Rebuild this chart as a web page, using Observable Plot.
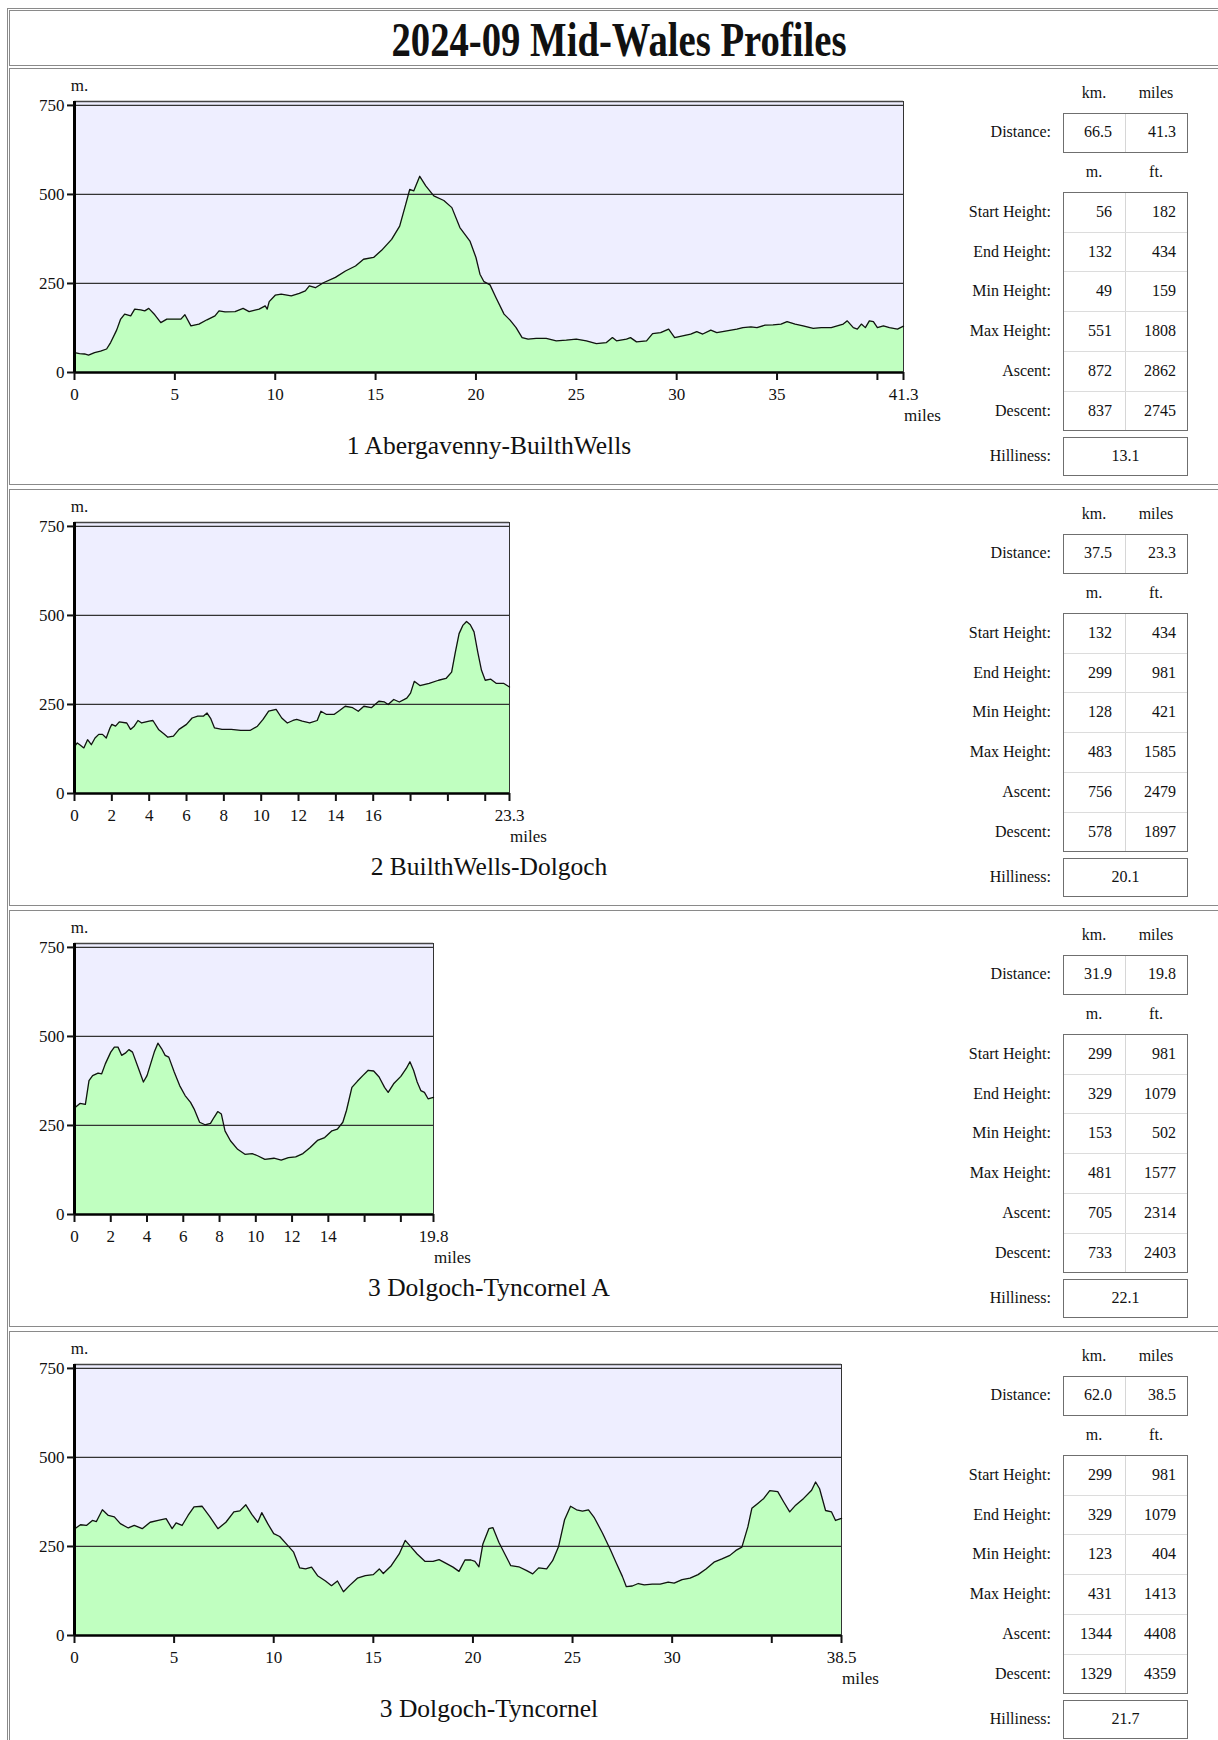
<!DOCTYPE html>
<html><head><meta charset="utf-8">
<script src="https://cdn.jsdelivr.net/npm/d3@7"></script>
<script src="https://cdn.jsdelivr.net/npm/@observablehq/plot@0.6"></script>
<style>
html,body{margin:0;padding:0;background:#fff}
body{width:1218px;height:1740px;overflow:hidden;position:relative;font-family:"Liberation Serif","Times New Roman",serif;color:#111}
.abs{position:absolute}
.box{position:absolute;border:1px solid #8a8a8a;box-sizing:border-box}
.lbl{position:absolute;font-size:16px;text-align:right;width:200px;line-height:20px}
.hdr{position:absolute;font-size:16px;text-align:center;width:62px;line-height:20px}
.sbox{position:absolute;border:1px solid #6f6f6f;box-sizing:border-box;background:#fff}
.cell{position:absolute;font-size:16px;text-align:right;box-sizing:border-box;line-height:20px}
.route{position:absolute;font-size:25.5px;text-align:center;width:500px;line-height:30px}
svg{position:absolute;overflow:visible}
</style></head><body>
<script>
// ---------- data ----------
const pageTitle = "2024-09 Mid-Wales Profiles";
const routeNames = ["1 Abergavenny-BuilthWells", "2 BuilthWells-Dolgoch", "3 Dolgoch-Tyncornel A", "3 Dolgoch-Tyncornel"];
const distKm = ["66.5", "37.5", "31.9", "62.0"];
const distMiles = [41.3, 23.3, 19.8, 38.5];
const statLabels = ["Start Height:", "End Height:", "Min Height:", "Max Height:", "Ascent:", "Descent:"];
const statsM = [
  [56, 132, 49, 551, 872, 837],
  [132, 299, 128, 483, 756, 578],
  [299, 329, 153, 481, 705, 733],
  [299, 329, 123, 431, 1344, 1329]
];
const statsFt = [
  [182, 434, 159, 1808, 2862, 2745],
  [434, 981, 421, 1585, 2479, 1897],
  [981, 1079, 502, 1577, 2314, 2403],
  [981, 1079, 404, 1413, 4408, 4359]
];
const hilliness = ["13.1", "20.1", "22.1", "21.7"];

const yTicks = [0, 250, 500, 750];
const xTicks = [
  [0, 5, 10, 15, 20, 25, 30, 35, 40, 41.3],
  [0, 2, 4, 6, 8, 10, 12, 14, 16, 18, 20, 22, 23.3],
  [0, 2, 4, 6, 8, 10, 12, 14, 16, 18, 19.8],
  [0, 5, 10, 15, 20, 25, 30, 35, 38.5]
];
const xTickLabels = [
  ["0", "5", "10", "15", "20", "25", "30", "35", "", "41.3"],
  ["0", "2", "4", "6", "8", "10", "12", "14", "16", "", "", "", "23.3"],
  ["0", "2", "4", "6", "8", "10", "12", "14", "", "", "19.8"],
  ["0", "5", "10", "15", "20", "25", "30", "", "38.5"]
];

const p1Miles = [0,0.25,0.5,0.7,1.0,1.3,1.6,1.8,2.1,2.3,2.5,2.8,3.0,3.3,3.5,3.7,4.0,4.3,4.6,5.0,5.3,5.5,5.8,6.2,6.6,7.0,7.2,7.5,8.0,8.4,8.7,9.2,9.5,9.6,9.7,10.0,10.3,10.8,11.2,11.5,11.7,12.0,12.4,13.0,13.5,14.0,14.4,14.9,15.3,15.8,16.2,16.5,16.7,16.9,17.2,17.5,17.9,18.4,18.8,19.2,19.7,20.0,20.2,20.4,20.7,21.0,21.4,21.7,22.0,22.3,22.6,23.0,23.5,24.0,24.5,25.0,25.5,26.0,26.5,26.8,27.0,27.5,27.7,28.0,28.5,28.8,29.2,29.6,29.9,30.3,30.7,31.0,31.3,31.7,32.0,32.5,33.0,33.3,33.7,34.0,34.4,34.8,35.2,35.5,35.9,36.3,36.8,37.2,37.7,38.0,38.3,38.5,38.8,39.0,39.2,39.4,39.6,39.8,40.0,40.3,40.6,41.0,41.3];
const p1Elev = [56,53,52,49,56,60,66,84,119,150,164,159,178,176,173,180,162,140,150,150,150,162,131,136,148,159,173,170,171,180,171,178,187,178,199,217,220,215,222,229,243,238,252,267,285,299,318,323,343,374,411,472,514,510,551,524,496,483,463,407,369,323,276,255,246,210,164,147,126,98,94,96,96,89,91,94,89,81,84,98,89,94,98,86,89,109,112,122,98,103,108,115,108,119,112,117,122,126,128,126,133,134,136,143,136,131,124,126,126,131,136,145,126,122,136,126,145,143,126,131,126,122,130];

const p2Miles = [0,0.15,0.3,0.5,0.7,0.9,1.1,1.3,1.5,1.7,1.9,2.0,2.2,2.4,2.8,3.0,3.2,3.4,3.6,4.0,4.2,4.5,4.8,5.0,5.3,5.6,6.0,6.3,6.6,6.9,7.1,7.3,7.5,7.9,8.4,8.9,9.4,9.8,10.1,10.4,10.8,11.1,11.4,11.7,11.9,12.2,12.6,13.0,13.2,13.5,13.9,14.2,14.5,14.9,15.2,15.5,15.9,16.3,16.6,16.8,17.1,17.4,17.8,18.0,18.2,18.5,19.0,19.5,19.9,20.2,20.4,20.6,20.8,21.0,21.2,21.4,21.6,21.8,22.0,22.3,22.6,23.0,23.3];
const p2Elev = [132,142,136,128,151,137,156,166,166,156,184,194,189,201,198,180,189,205,198,203,205,180,167,158,161,180,194,212,217,217,226,210,184,180,180,177,177,189,208,231,236,212,198,205,208,203,198,205,231,222,222,233,245,241,231,245,241,259,257,250,264,257,268,282,315,303,309,318,323,341,397,449,472,483,474,454,397,346,318,321,309,309,299];

const p3Miles = [0,0.3,0.6,0.8,1.0,1.3,1.5,1.7,2.0,2.2,2.4,2.6,2.8,3.0,3.2,3.5,3.8,4.0,4.2,4.4,4.6,4.8,5.0,5.2,5.5,5.8,6.1,6.4,6.6,6.9,7.2,7.5,7.7,7.9,8.1,8.3,8.6,9.0,9.4,9.8,10.1,10.5,11.0,11.4,11.8,12.2,12.6,13.0,13.4,13.8,14.2,14.5,14.8,15.0,15.3,15.6,15.9,16.2,16.5,16.8,17.1,17.3,17.6,18.0,18.3,18.5,18.7,18.9,19.1,19.3,19.5,19.8];
const p3Elev = [299,312,309,376,390,397,395,423,456,470,470,447,453,463,456,414,372,390,423,456,481,466,447,442,400,362,334,315,296,259,252,256,273,289,282,235,207,183,169,171,165,155,158,153,160,162,171,188,208,216,235,240,259,292,357,374,390,405,403,386,357,343,367,388,410,429,405,372,348,343,325,329];

const p4Miles = [0,0.3,0.6,0.9,1.1,1.4,1.7,2.0,2.3,2.7,3.0,3.4,3.8,4.2,4.6,4.9,5.1,5.4,5.7,6.0,6.4,6.8,7.2,7.6,8.0,8.3,8.6,8.9,9.2,9.4,9.7,10.0,10.3,10.7,11.0,11.3,11.6,11.9,12.2,12.6,12.9,13.2,13.5,13.8,14.2,14.6,15.0,15.3,15.5,15.9,16.3,16.6,16.9,17.2,17.6,18.0,18.3,18.7,19.0,19.3,19.6,19.9,20.1,20.3,20.5,20.8,21.0,21.3,21.6,21.9,22.3,22.7,23.0,23.3,23.7,24.0,24.3,24.6,24.9,25.2,25.5,25.8,26.1,26.5,26.9,27.2,27.5,27.7,28.0,28.3,28.6,29.0,29.4,29.8,30.1,30.5,30.9,31.3,31.7,32.1,32.5,32.9,33.2,33.5,33.8,34.0,34.3,34.6,34.9,35.3,35.6,35.9,36.2,36.6,37.0,37.2,37.4,37.7,38.0,38.2,38.5];
const p4Elev = [299,311,309,323,320,353,337,333,314,302,309,300,318,323,328,300,316,309,337,361,363,333,300,318,347,350,367,340,318,345,314,286,278,253,234,190,187,192,168,153,140,153,123,140,161,168,171,187,174,196,229,267,248,229,208,208,213,201,192,180,212,212,208,193,257,300,303,262,229,196,193,182,173,190,187,210,250,325,363,353,349,353,330,288,241,203,166,137,139,146,142,144,144,150,147,157,161,171,187,206,215,225,239,248,305,357,371,385,407,404,375,347,366,385,408,431,412,351,347,323,329];

const profileMiles = [p1Miles, p2Miles, p3Miles, p4Miles];
const profileElev = [p1Elev, p2Elev, p3Elev, p4Elev];

// ---------- layout ----------
const PANEL_TOP = 67, PANEL_PITCH = 421;
const plotRight = [903, 509, 433, 841];
const FONT = "'Liberation Serif','Times New Roman',serif";

function el(tag, cls, css, text) {
  const e = document.createElement(tag);
  if (cls) e.className = cls;
  Object.assign(e.style, css || {});
  if (text != null) e.textContent = text;
  document.body.appendChild(e);
  return e;
}

// frames
el("div", "box", {left: "7px", top: "8px", width: "1260px", height: "1800px"});
el("div", "box", {left: "9px", top: "10px", width: "1256px", height: "56px"});
el("div", "abs", {left: "0px", top: "10px", width: "1238px", textAlign: "center", fontSize: "49px", fontWeight: "bold", lineHeight: "60px", transform: "scaleX(0.79)", transformOrigin: "619px 0"}, pageTitle);
for (let i = 0; i < 4; i++) {
  const T = PANEL_TOP + i * PANEL_PITCH;
  el("div", "box", {left: "9px", top: (T + 1) + "px", width: "1256px", height: "417px"});
}

function profile(i) {
  const data = profileMiles[i].map((m, k) => ({m, e: profileElev[i][k]}));
  const W = 980;
  const labelMap = new Map(xTicks[i].map((t, j) => [t, xTickLabels[i][j]]));
  return Plot.plot({
    width: W, height: 362,
    marginLeft: 74, marginRight: W - plotRight[i], marginTop: 34, marginBottom: 57,
    style: {fontFamily: FONT, fontSize: "17px", color: "#111", background: "transparent", overflow: "visible"},
    x: {domain: [0, distMiles[i]]},
    y: {domain: [0, 761]},
    marks: [
      Plot.frame({fill: "#EEEEFF"}),
      Plot.areaY(data, {x: "m", y: "e", fill: "#C0FFC0"}),
      Plot.ruleY([250, 500, 750], {stroke: "#333", strokeWidth: 1.3}),
      Plot.ruleY([761], {stroke: "#444", strokeWidth: 1.5}),
      Plot.ruleX([distMiles[i]], {stroke: "#333", strokeWidth: 1}),
      Plot.lineY(data, {x: "m", y: "e", stroke: "#111", strokeWidth: 1.3}),
      Plot.ruleX([0], {stroke: "#000", strokeWidth: 3}),
      Plot.ruleY([0], {stroke: "#000", strokeWidth: 2.5}),
      Plot.axisY({ticks: yTicks, tickSize: 7, tickPadding: 3, strokeWidth: 2, label: null, fontSize: 17, tickFormat: d => String(d)}),
      Plot.axisX({ticks: xTicks[i], tickFormat: d => labelMap.get(d) ?? "", tickSize: 8, tickPadding: 7, strokeWidth: 2, label: null, fontSize: 17}),
      Plot.text(["m."], {text: d => d, frameAnchor: "top-left", textAnchor: "middle", lineAnchor: "middle", dx: 5, dy: -16, fontSize: 17}),
      Plot.text(["miles"], {text: d => d, frameAnchor: "bottom-right", textAnchor: "middle", lineAnchor: "middle", dx: 19, dy: 43, fontSize: 17})
    ]
  });
}

for (let i = 0; i < 4; i++) {
  const T = PANEL_TOP + i * PANEL_PITCH;
  const svg = profile(i);
  svg.style.left = "0px";
  svg.style.top = T + "px";
  document.body.appendChild(svg);

  el("div", "route", {left: "239px", top: (T + 364) + "px"}, routeNames[i]);

  // stats
  el("div", "hdr", {left: "1063px", top: (T + 16) + "px"}, "km.");
  el("div", "hdr", {left: "1125px", top: (T + 16) + "px"}, "miles");
  el("div", "lbl", {left: "851px", top: (T + 55) + "px"}, "Distance:");
  el("div", "sbox", {left: "1063px", top: (T + 46) + "px", width: "125px", height: "40px"});
  el("div", "abs", {left: "1125px", top: (T + 47) + "px", width: "1px", height: "38px", background: "#d6d6d6"});
  el("div", "cell", {left: "1063px", top: (T + 55) + "px", width: "62px", paddingRight: "13px"}, distKm[i]);
  el("div", "cell", {left: "1125px", top: (T + 55) + "px", width: "62px", paddingRight: "11px"}, distMiles[i].toFixed(1));

  el("div", "hdr", {left: "1063px", top: (T + 95) + "px"}, "m.");
  el("div", "hdr", {left: "1125px", top: (T + 95) + "px"}, "ft.");
  el("div", "sbox", {left: "1063px", top: (T + 125) + "px", width: "125px", height: "239px"});
  el("div", "abs", {left: "1125px", top: (T + 126) + "px", width: "1px", height: "237px", background: "#d6d6d6"});
  const rowH = 39.7;
  for (let r = 0; r < 6; r++) {
    const ry = T + 125 + r * rowH;
    if (r > 0) el("div", "abs", {left: "1064px", top: ry + "px", width: "123px", height: "1px", background: "#dcdcdc"});
    el("div", "lbl", {left: "851px", top: (ry + 10) + "px"}, statLabels[r]);
    el("div", "cell", {left: "1063px", top: (ry + 10) + "px", width: "62px", paddingRight: "13px"}, String(statsM[i][r]));
    el("div", "cell", {left: "1125px", top: (ry + 10) + "px", width: "62px", paddingRight: "11px"}, String(statsFt[i][r]));
  }
  el("div", "lbl", {left: "851px", top: (T + 379) + "px"}, "Hilliness:");
  el("div", "sbox", {left: "1063px", top: (T + 370) + "px", width: "125px", height: "39px"});
  el("div", "cell", {left: "1063px", top: (T + 379) + "px", width: "125px", textAlign: "center"}, hilliness[i]);
}
</script>
</body></html>
